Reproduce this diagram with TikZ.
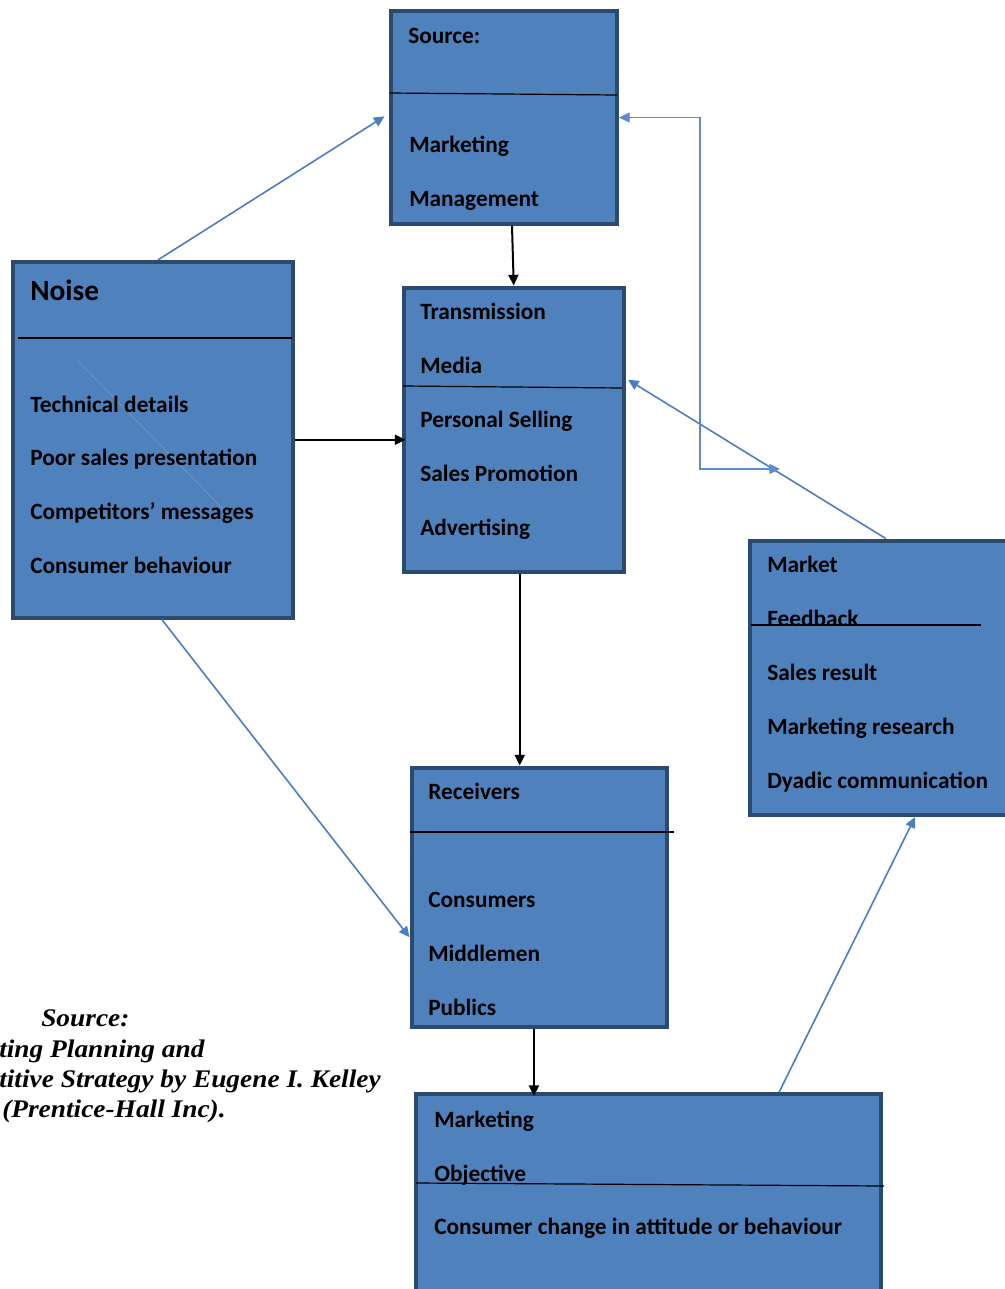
\documentclass[tikz,border=0pt]{standalone}
\usepackage{fontspec}
\setmainfont{Carlito}
\newfontfamily\capfont[FakeStretch=1.08]{Liberation Serif}
\usetikzlibrary{arrows.meta,fit}
\definecolor{boxfill}{HTML}{4F81BD}
\definecolor{boxline}{HTML}{2C4A6E}
\definecolor{arrblue}{HTML}{4A7EBF}
\definecolor{elbowblue}{HTML}{5B8BC9}
\definecolor{faint}{HTML}{7397C8}
\begin{document}
\begin{tikzpicture}[x=0.75pt,y=-0.75pt,
 box/.style={draw=boxline, fill=boxfill, line width=3pt, inner sep=0pt},
 txt/.style={anchor=base west, inner sep=0pt, font=\fontsize{17.5}{19}\selectfont\bfseries},
 bigtxt/.style={anchor=base west, inner sep=0pt, font=\fontsize{22}{25}\selectfont\bfseries},
 captxt/.style={anchor=base west, inner sep=0pt, font=\capfont\fontsize{19}{21}\selectfont\bfseries\itshape},
 divider/.style={draw=black, line width=0.9pt},
 blk/.style={draw=black, line width=1.5pt, -{Triangle[length=8pt,width=7.5pt]}},
 blu/.style={draw=arrblue, line width=1.2pt, -{Triangle[length=8pt,width=7.5pt]}},
 elb/.style={draw=elbowblue, line width=1pt, {Triangle[length=8pt,width=7.5pt]}-{Triangle[length=8pt,width=7.5pt]}},
]
\useasboundingbox (0,0) rectangle (1005,1289);
\clip (0,0) rectangle (1005,1289);

% boxes
\node[box, fit={(391,11) (617,224)}] (src) {};
\node[box, fit={(12.5,262) (292.5,617.5)}] (noise) {};
\node[box, fit={(403.5,287.5) (624,572)}] (tx) {};
\node[box, fit={(749.5,540.5) (1030,815)}] (mk) {};
\node[box, fit={(411.5,767.5) (667,1027)}] (rec) {};
\node[box, fit={(416,1094) (881,1320)}] (obj) {};

% faint artefact line inside Noise box
\draw[faint, line width=0.5pt] (77,360) -- (227,513);

% dividers
\draw[divider] (390,93) -- (617,95);
\draw[divider] (18,338) -- (292,338);
\draw[divider] (403,386) -- (622,388);
\draw[divider] (751,625) -- (981,625);
\draw[divider] (410,832) -- (674,832);
\draw[divider] (416,1183) -- (884,1186);

% texts: Source box
\node[txt] (s1) at (408,43) {Source:};
\node[txt] (s2) at (409,152) {Marketing};
\node[txt] (s3) at (409,206) {Management};
% Noise box
\node[bigtxt] (n0) at (30,300) {Noise};
\node[txt] (n1) at (30,412) {Technical details};
\node[txt] (n2) at (30,465) {Poor sales presentation};
\node[txt] (n3) at (30,519) {Competitors’ messages};
\node[txt] (n4) at (30,573) {Consumer behaviour};
% Transmission box
\node[txt] (t1) at (420,319) {Transmission};
\node[txt] (t2) at (420,373) {Media};
\node[txt] (t3) at (420,427) {Personal Selling};
\node[txt] (t4) at (420,481) {Sales Promotion};
\node[txt] (t5) at (420,535) {Advertising};
% Market box
\node[txt] (m1) at (767,572) {Market};
\node[txt] (m2) at (767,626) {Feedback};
\node[txt] (m3) at (767,680) {Sales result};
\node[txt] (m4) at (767,734) {Marketing research};
\node[txt] (m5) at (767,788) {Dyadic communication};
% Receivers box
\node[txt] (r1) at (428,799) {Receivers};
\node[txt] (r2) at (428,907) {Consumers};
\node[txt] (r3) at (428,961) {Middlemen};
\node[txt] (r4) at (428,1015) {Publics};
% Objective box
\node[txt] (o1) at (434,1127) {Marketing};
\node[txt] (o2) at (434,1181) {Objective};
\node[txt] (o3) at (434,1234) {Consumer change in attitude or behaviour};

% caption
\node[captxt] (c1) at (41,1026) {Source:};
\node[captxt] (c2) at (-1,1057) {ting Planning and};
\node[captxt] (c3) at (-1,1087) {titive Strategy by Eugene I. Kelley};
\node[captxt] (c4) at (2,1117) {(Prentice-Hall Inc).};

% black connectors
\draw[blk] ([xshift=6pt]src.south) -- (tx.north);
\draw[blk, shorten >=-3pt] (noise.east) -- (noise.east -| tx.west);
\draw[blk] ([xshift=4.5pt]tx.south) -- ([xshift=4.5pt]tx.south |- rec.north);
\draw[blk, shorten >=-3pt] ([xshift=-4pt]rec.south) -- ([xshift=-4pt]rec.south |- obj.north);

% blue connectors
\draw[blu, shorten >=4pt] ([xshift=4pt]noise.north) -- ([yshift=3pt]src.west);
\draw[blu] ([xshift=7pt]noise.south) -- ([yshift=-30pt]rec.west);
\draw[blu] ([xshift=98pt]obj.north) -- ([xshift=19pt]mk.south);
\draw[blu] ([xshift=-3pt]mk.north) -- ([xshift=1.5pt,yshift=37.5pt]tx.east);

% feedback elbow
\coordinate (fbk) at (780,469);
\draw[elb] (src.east) -- ++(81,0) |- (fbk);
\end{tikzpicture}
\end{document}
